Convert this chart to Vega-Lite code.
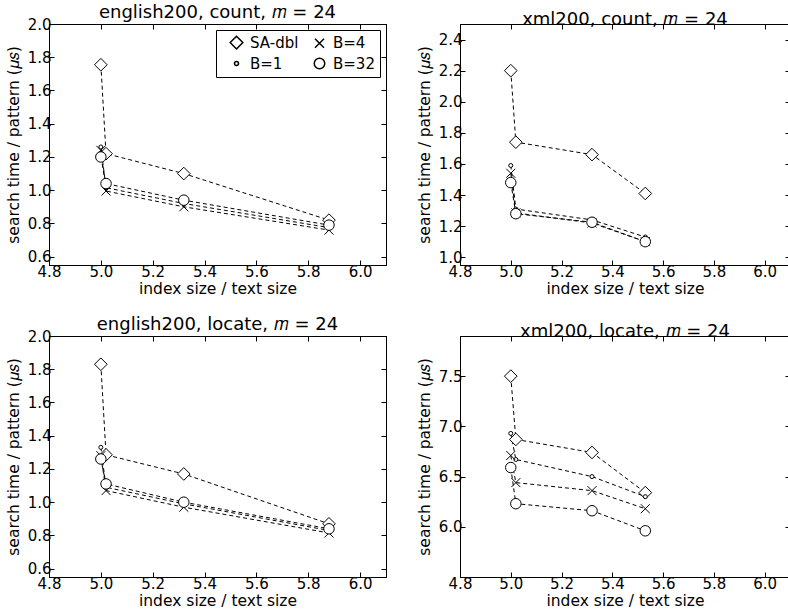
{
  "$schema": "https://vega.github.io/schema/vega-lite/v6.json",
  "padding": {"left": 5, "top": 3, "right": 0, "bottom": 0},
  "config": {
    "font": "DejaVu Sans",
    "view": {"stroke": "black", "strokeWidth": 1},
    "axis": {"grid": false, "domainColor": "black", "tickColor": "black", "labelColor": "black", "titleColor": "black", "labelFontSize": 15, "titleFontSize": 15.5, "titleFontWeight": "normal", "labelFont": "DejaVu Sans", "titleFont": "DejaVu Sans", "tickSize": -5, "labelFlush": false, "labelOverlap": false},
    "axisX": {"labelPadding": 4, "titlePadding": 2},
    "axisY": {"labelPadding": 3, "titlePadding": 6},
    "title": {"fontSize": 18, "fontWeight": "normal", "font": "DejaVu Sans", "offset": -5, "color": "black"},
    "legend": {"title": null, "orient": "top-right", "columns": 2, "offset": 6, "strokeColor": "black", "fillColor": "white", "padding": 5, "labelFontSize": 15, "labelFont": "DejaVu Sans", "labelColor": "black", "symbolOffset": 8, "labelOffset": 6, "columnPadding": 5, "rowPadding": 3, "cornerRadius": 0}
  },
  "resolve": {"scale": {"shape": "independent", "size": "independent"}, "legend": {"shape": "independent", "size": "independent"}},
  "spacing": 18,
  "datasets": {
    "d": [
      {"panel": "ec", "series": "SA-dbl", "x": 5.0, "y": 1.755},
      {"panel": "ec", "series": "SA-dbl", "x": 5.02, "y": 1.22},
      {"panel": "ec", "series": "SA-dbl", "x": 5.32, "y": 1.10},
      {"panel": "ec", "series": "SA-dbl", "x": 5.88, "y": 0.82},
      {"panel": "ec", "series": "B=1", "x": 5.0, "y": 1.26},
      {"panel": "ec", "series": "B=1", "x": 5.02, "y": 1.015},
      {"panel": "ec", "series": "B=1", "x": 5.32, "y": 0.92},
      {"panel": "ec", "series": "B=1", "x": 5.88, "y": 0.775},
      {"panel": "ec", "series": "B=4", "x": 5.0, "y": 1.24},
      {"panel": "ec", "series": "B=4", "x": 5.02, "y": 0.995},
      {"panel": "ec", "series": "B=4", "x": 5.32, "y": 0.90},
      {"panel": "ec", "series": "B=4", "x": 5.88, "y": 0.76},
      {"panel": "ec", "series": "B=32", "x": 5.0, "y": 1.20},
      {"panel": "ec", "series": "B=32", "x": 5.02, "y": 1.04},
      {"panel": "ec", "series": "B=32", "x": 5.32, "y": 0.94},
      {"panel": "ec", "series": "B=32", "x": 5.88, "y": 0.79},

      {"panel": "xc", "series": "SA-dbl", "x": 5.0, "y": 2.20},
      {"panel": "xc", "series": "SA-dbl", "x": 5.02, "y": 1.74},
      {"panel": "xc", "series": "SA-dbl", "x": 5.32, "y": 1.66},
      {"panel": "xc", "series": "SA-dbl", "x": 5.53, "y": 1.41},
      {"panel": "xc", "series": "B=1", "x": 5.0, "y": 1.59},
      {"panel": "xc", "series": "B=1", "x": 5.02, "y": 1.31},
      {"panel": "xc", "series": "B=1", "x": 5.32, "y": 1.24},
      {"panel": "xc", "series": "B=1", "x": 5.53, "y": 1.13},
      {"panel": "xc", "series": "B=4", "x": 5.0, "y": 1.54},
      {"panel": "xc", "series": "B=4", "x": 5.02, "y": 1.285},
      {"panel": "xc", "series": "B=4", "x": 5.32, "y": 1.22},
      {"panel": "xc", "series": "B=4", "x": 5.53, "y": 1.10},
      {"panel": "xc", "series": "B=32", "x": 5.0, "y": 1.48},
      {"panel": "xc", "series": "B=32", "x": 5.02, "y": 1.28},
      {"panel": "xc", "series": "B=32", "x": 5.32, "y": 1.225},
      {"panel": "xc", "series": "B=32", "x": 5.53, "y": 1.10},

      {"panel": "el", "series": "SA-dbl", "x": 5.0, "y": 1.83},
      {"panel": "el", "series": "SA-dbl", "x": 5.02, "y": 1.285},
      {"panel": "el", "series": "SA-dbl", "x": 5.32, "y": 1.17},
      {"panel": "el", "series": "SA-dbl", "x": 5.88, "y": 0.87},
      {"panel": "el", "series": "B=1", "x": 5.0, "y": 1.33},
      {"panel": "el", "series": "B=1", "x": 5.02, "y": 1.09},
      {"panel": "el", "series": "B=1", "x": 5.32, "y": 0.99},
      {"panel": "el", "series": "B=1", "x": 5.88, "y": 0.83},
      {"panel": "el", "series": "B=4", "x": 5.0, "y": 1.28},
      {"panel": "el", "series": "B=4", "x": 5.02, "y": 1.07},
      {"panel": "el", "series": "B=4", "x": 5.32, "y": 0.97},
      {"panel": "el", "series": "B=4", "x": 5.88, "y": 0.815},
      {"panel": "el", "series": "B=32", "x": 5.0, "y": 1.26},
      {"panel": "el", "series": "B=32", "x": 5.02, "y": 1.11},
      {"panel": "el", "series": "B=32", "x": 5.32, "y": 1.00},
      {"panel": "el", "series": "B=32", "x": 5.88, "y": 0.84},

      {"panel": "xl", "series": "SA-dbl", "x": 5.0, "y": 7.50},
      {"panel": "xl", "series": "SA-dbl", "x": 5.02, "y": 6.87},
      {"panel": "xl", "series": "SA-dbl", "x": 5.32, "y": 6.74},
      {"panel": "xl", "series": "SA-dbl", "x": 5.53, "y": 6.34},
      {"panel": "xl", "series": "B=1", "x": 5.0, "y": 6.93},
      {"panel": "xl", "series": "B=1", "x": 5.02, "y": 6.67},
      {"panel": "xl", "series": "B=1", "x": 5.32, "y": 6.50},
      {"panel": "xl", "series": "B=1", "x": 5.53, "y": 6.30},
      {"panel": "xl", "series": "B=4", "x": 5.0, "y": 6.71},
      {"panel": "xl", "series": "B=4", "x": 5.02, "y": 6.44},
      {"panel": "xl", "series": "B=4", "x": 5.32, "y": 6.36},
      {"panel": "xl", "series": "B=4", "x": 5.53, "y": 6.18},
      {"panel": "xl", "series": "B=32", "x": 5.0, "y": 6.59},
      {"panel": "xl", "series": "B=32", "x": 5.02, "y": 6.23},
      {"panel": "xl", "series": "B=32", "x": 5.32, "y": 6.16},
      {"panel": "xl", "series": "B=32", "x": 5.53, "y": 5.96}
    ]
  },
  "vconcat": [
    {
      "resolve": {"scale": {"shape": "independent", "size": "independent"}, "legend": {"shape": "independent", "size": "independent"}},
      "spacing": 29,
      "hconcat": [
        {
          "width": 337, "height": 241,
          "title": "english200, count, 𝑚 = 24",
          "data": {"name": "d"},
          "transform": [{"filter": "datum.panel == 'ec'"}],
          "resolve": {"axis": {"x": "independent", "y": "independent"}},
          "layer": [
            {
              "mark": {"type": "line", "color": "black", "strokeWidth": 1, "strokeDash": [4, 3]},
              "encoding": {
                "x": {"field": "x", "type": "quantitative", "scale": {"domain": [4.8, 6.1], "nice": false, "zero": false}, "axis": {"values": [4.8, 5.0, 5.2, 5.4, 5.6, 5.8, 6.0], "format": ".1f", "title": "index size / text size"}},
                "y": {"field": "y", "type": "quantitative", "scale": {"domain": [0.55, 2.0], "nice": false, "zero": false}, "axis": {"values": [0.6, 0.8, 1.0, 1.2, 1.4, 1.6, 1.8, 2.0], "format": ".1f", "title": "search time / pattern (𝜇𝑠)"}},
                "detail": {"field": "series"},
                "order": {"field": "x"}
              }
            },
            {
              "mark": {"type": "point", "filled": true, "fill": "white", "stroke": "black", "strokeWidth": 1, "opacity": 1},
              "encoding": {
                "x": {"field": "x", "type": "quantitative", "axis": {"orient": "top", "values": [4.8, 5.0, 5.2, 5.4, 5.6, 5.8, 6.0], "labels": false, "title": null, "labelPadding": 0, "minExtent": 0, "maxExtent": 0}},
                "y": {"field": "y", "type": "quantitative", "axis": {"orient": "right", "values": [0.6, 0.8, 1.0, 1.2, 1.4, 1.6, 1.8, 2.0], "labels": false, "title": null, "labelPadding": 0, "minExtent": 0, "maxExtent": 0}},
                "shape": {"field": "series", "type": "nominal", "scale": {"domain": ["SA-dbl", "B=1", "B=4", "B=32"], "range": ["diamond", "circle", "M-1,-1L1,1M-1,1L1,-1", "circle"]},
                  "legend": {"encode": {"symbols": {"update": {"stroke": {"value": "black"}, "fill": {"value": "white"}, "strokeWidth": {"value": 1}, "opacity": {"value": 1}}}}}},
                "size": {"field": "series", "type": "nominal", "scale": {"type": "ordinal", "domain": ["SA-dbl", "B=1", "B=4", "B=32"], "range": [160, 16, 81, 110]},
                  "legend": {"encode": {"symbols": {"update": {"stroke": {"value": "black"}, "fill": {"value": "white"}, "strokeWidth": {"value": 1}, "opacity": {"value": 1}}}}}}
              }
            }
          ]
        },
        {
          "width": 330, "height": 241,
          "title": "xml200, count, 𝑚 = 24",
          "data": {"name": "d"},
          "transform": [{"filter": "datum.panel == 'xc'"}],
          "resolve": {"axis": {"x": "independent", "y": "independent"}},
          "layer": [
            {
              "mark": {"type": "line", "color": "black", "strokeWidth": 1, "strokeDash": [4, 3]},
              "encoding": {
                "x": {"field": "x", "type": "quantitative", "scale": {"domain": [4.8, 6.1], "nice": false, "zero": false}, "axis": {"values": [4.8, 5.0, 5.2, 5.4, 5.6, 5.8, 6.0], "format": ".1f", "title": "index size / text size"}},
                "y": {"field": "y", "type": "quantitative", "scale": {"domain": [0.95, 2.5], "nice": false, "zero": false}, "axis": {"values": [1.0, 1.2, 1.4, 1.6, 1.8, 2.0, 2.2, 2.4], "format": ".1f", "title": "search time / pattern (𝜇𝑠)"}},
                "detail": {"field": "series"},
                "order": {"field": "x"}
              }
            },
            {
              "mark": {"type": "point", "filled": true, "fill": "white", "stroke": "black", "strokeWidth": 1, "opacity": 1},
              "encoding": {
                "x": {"field": "x", "type": "quantitative", "axis": {"orient": "top", "values": [4.8, 5.0, 5.2, 5.4, 5.6, 5.8, 6.0], "labels": false, "title": null, "labelPadding": 0, "minExtent": 0, "maxExtent": 0}},
                "y": {"field": "y", "type": "quantitative", "axis": {"orient": "right", "values": [1.0, 1.2, 1.4, 1.6, 1.8, 2.0, 2.2, 2.4], "labels": false, "title": null, "labelPadding": 0, "minExtent": 0, "maxExtent": 0}},
                "shape": {"field": "series", "type": "nominal", "scale": {"domain": ["SA-dbl", "B=1", "B=4", "B=32"], "range": ["diamond", "circle", "M-1,-1L1,1M-1,1L1,-1", "circle"]}, "legend": null},
                "size": {"field": "series", "type": "nominal", "scale": {"type": "ordinal", "domain": ["SA-dbl", "B=1", "B=4", "B=32"], "range": [160, 16, 81, 110]}, "legend": null}
              }
            }
          ]
        }
      ]
    },
    {
      "resolve": {"scale": {"shape": "independent", "size": "independent"}, "legend": {"shape": "independent", "size": "independent"}},
      "spacing": 29,
      "hconcat": [
        {
          "width": 337, "height": 241,
          "title": "english200, locate, 𝑚 = 24",
          "data": {"name": "d"},
          "transform": [{"filter": "datum.panel == 'el'"}],
          "resolve": {"axis": {"x": "independent", "y": "independent"}},
          "layer": [
            {
              "mark": {"type": "line", "color": "black", "strokeWidth": 1, "strokeDash": [4, 3]},
              "encoding": {
                "x": {"field": "x", "type": "quantitative", "scale": {"domain": [4.8, 6.1], "nice": false, "zero": false}, "axis": {"values": [4.8, 5.0, 5.2, 5.4, 5.6, 5.8, 6.0], "format": ".1f", "title": "index size / text size"}},
                "y": {"field": "y", "type": "quantitative", "scale": {"domain": [0.55, 2.0], "nice": false, "zero": false}, "axis": {"values": [0.6, 0.8, 1.0, 1.2, 1.4, 1.6, 1.8, 2.0], "format": ".1f", "title": "search time / pattern (𝜇𝑠)"}},
                "detail": {"field": "series"},
                "order": {"field": "x"}
              }
            },
            {
              "mark": {"type": "point", "filled": true, "fill": "white", "stroke": "black", "strokeWidth": 1, "opacity": 1},
              "encoding": {
                "x": {"field": "x", "type": "quantitative", "axis": {"orient": "top", "values": [4.8, 5.0, 5.2, 5.4, 5.6, 5.8, 6.0], "labels": false, "title": null, "labelPadding": 0, "minExtent": 0, "maxExtent": 0}},
                "y": {"field": "y", "type": "quantitative", "axis": {"orient": "right", "values": [0.6, 0.8, 1.0, 1.2, 1.4, 1.6, 1.8, 2.0], "labels": false, "title": null, "labelPadding": 0, "minExtent": 0, "maxExtent": 0}},
                "shape": {"field": "series", "type": "nominal", "scale": {"domain": ["SA-dbl", "B=1", "B=4", "B=32"], "range": ["diamond", "circle", "M-1,-1L1,1M-1,1L1,-1", "circle"]}, "legend": null},
                "size": {"field": "series", "type": "nominal", "scale": {"type": "ordinal", "domain": ["SA-dbl", "B=1", "B=4", "B=32"], "range": [160, 16, 81, 110]}, "legend": null}
              }
            }
          ]
        },
        {
          "width": 330, "height": 241,
          "title": "xml200, locate, 𝑚 = 24",
          "data": {"name": "d"},
          "transform": [{"filter": "datum.panel == 'xl'"}],
          "resolve": {"axis": {"x": "independent", "y": "independent"}},
          "layer": [
            {
              "mark": {"type": "line", "color": "black", "strokeWidth": 1, "strokeDash": [4, 3]},
              "encoding": {
                "x": {"field": "x", "type": "quantitative", "scale": {"domain": [4.8, 6.1], "nice": false, "zero": false}, "axis": {"values": [4.8, 5.0, 5.2, 5.4, 5.6, 5.8, 6.0], "format": ".1f", "title": "index size / text size"}},
                "y": {"field": "y", "type": "quantitative", "scale": {"domain": [5.5, 7.9], "nice": false, "zero": false}, "axis": {"values": [6.0, 6.5, 7.0, 7.5], "format": ".1f", "title": "search time / pattern (𝜇𝑠)"}},
                "detail": {"field": "series"},
                "order": {"field": "x"}
              }
            },
            {
              "mark": {"type": "point", "filled": true, "fill": "white", "stroke": "black", "strokeWidth": 1, "opacity": 1},
              "encoding": {
                "x": {"field": "x", "type": "quantitative", "axis": {"orient": "top", "values": [4.8, 5.0, 5.2, 5.4, 5.6, 5.8, 6.0], "labels": false, "title": null, "labelPadding": 0, "minExtent": 0, "maxExtent": 0}},
                "y": {"field": "y", "type": "quantitative", "axis": {"orient": "right", "values": [6.0, 6.5, 7.0, 7.5], "labels": false, "title": null, "labelPadding": 0, "minExtent": 0, "maxExtent": 0}},
                "shape": {"field": "series", "type": "nominal", "scale": {"domain": ["SA-dbl", "B=1", "B=4", "B=32"], "range": ["diamond", "circle", "M-1,-1L1,1M-1,1L1,-1", "circle"]}, "legend": null},
                "size": {"field": "series", "type": "nominal", "scale": {"type": "ordinal", "domain": ["SA-dbl", "B=1", "B=4", "B=32"], "range": [160, 16, 81, 110]}, "legend": null}
              }
            }
          ]
        }
      ]
    }
  ]
}
